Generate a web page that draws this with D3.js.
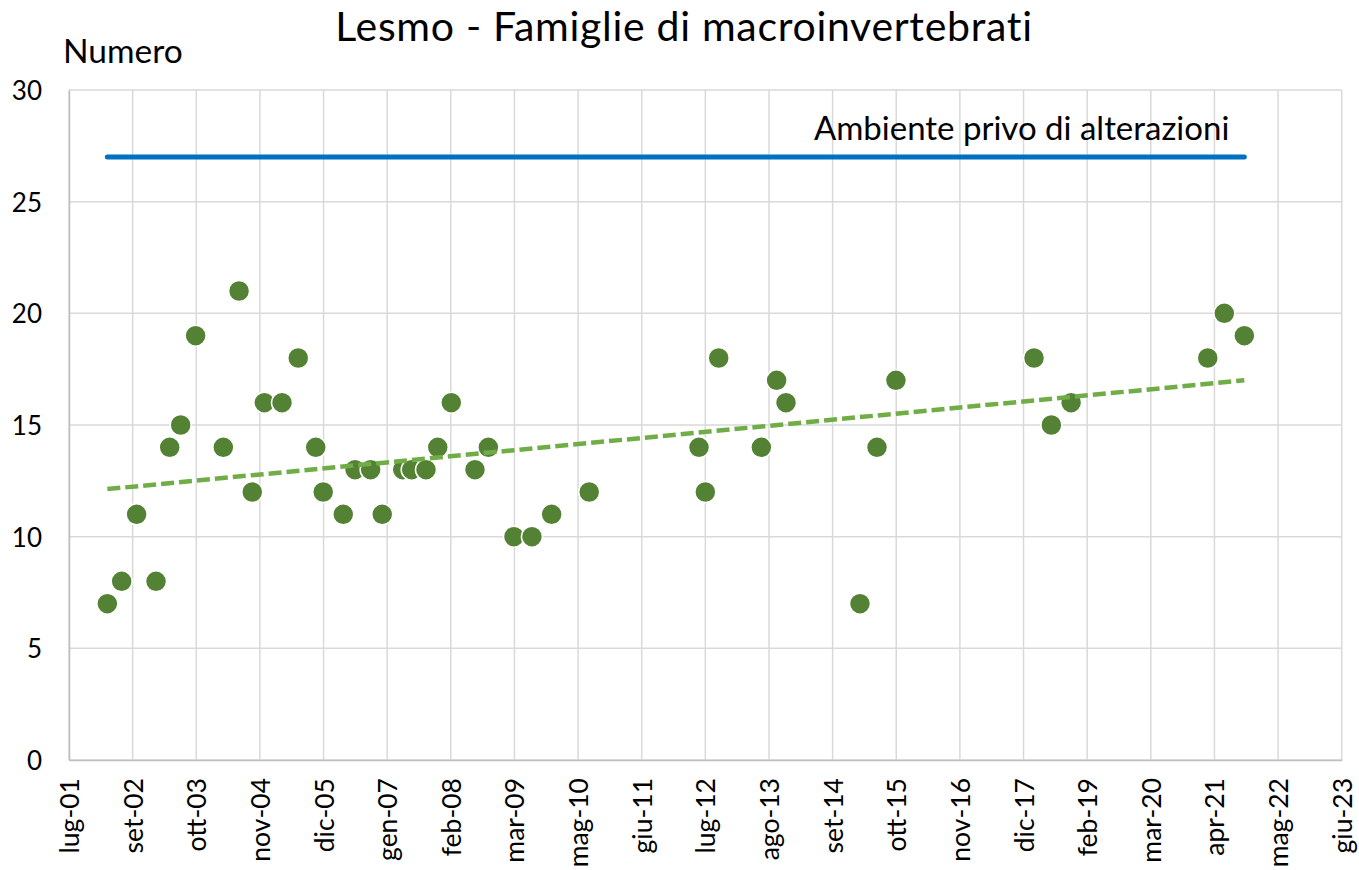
<!DOCTYPE html>
<html>
<head>
<meta charset="utf-8">
<script src="https://cdn.jsdelivr.net/npm/d3@7"></script>
<style>
  html, body { margin: 0; padding: 0; background: #fff; }
  svg text { font-family: Lato, "Open Sans", sans-serif; fill: #000; }
</style>
</head>
<body>
<svg id="chart" width="1359" height="870"></svg>
<script>
// ---------- DATA ----------
const sampleDates = [
  "2002-03-26","2002-06-24","2002-09-26","2003-01-26","2003-04-22","2003-06-30","2003-10-02",
  "2004-03-24","2004-07-01","2004-09-22","2004-12-07","2005-03-28","2005-07-08","2005-10-26",
  "2005-12-12","2006-04-17","2006-06-30","2006-10-06","2006-12-18","2007-04-26","2007-06-21",
  "2007-09-19","2007-12-02","2008-02-25","2008-07-23","2008-10-15","2009-03-25","2009-07-16",
  "2009-11-17","2010-07-11","2012-05-31","2012-07-10","2012-10-02","2013-06-27","2013-10-01",
  "2013-11-29","2015-03-09","2015-06-24","2015-10-21","2018-03-07","2018-06-24","2018-10-26",
  "2021-03-03","2021-06-15","2021-10-19"
];
const familyCounts = [
  7, 8, 11, 8, 14, 15, 19,
  14, 21, 12, 16, 16, 18, 14,
  12, 11, 13, 13, 11, 13, 13,
  13, 14, 16, 13, 14, 10, 10,
  11, 12, 14, 12, 18, 14, 17,
  16, 7, 14, 17, 18, 15, 16,
  18, 20, 19
];
const referenceValue = 27;                 // "Ambiente privo di alterazioni"
const referenceLabel = "Ambiente privo di alterazioni";
const trendEndValues = [12.13, 17.0];      // linear trend at first and last sample
const xTickDates = [
  "2001-07-28","2002-09-01","2003-10-06","2004-11-09","2005-12-14","2007-01-18","2008-02-22",
  "2009-03-28","2010-05-02","2011-06-06","2012-07-10","2013-08-14","2014-09-18","2015-10-23",
  "2016-11-26","2017-12-31","2019-02-04","2020-03-10","2021-04-14","2022-05-19","2023-06-23"
];
const yTicks = [0, 5, 10, 15, 20, 25, 30];
const chartTitle = "Lesmo - Famiglie di macroinvertebrati";
const yAxisTitle = "Numero";

// ---------- SETUP ----------
const itLocale = d3.timeFormatLocale({
  dateTime: "%A %e %B %Y, %X", date: "%d/%m/%Y", time: "%H:%M:%S",
  periods: ["AM", "PM"],
  days: ["domenica","lunedì","martedì","mercoledì","giovedì","venerdì","sabato"],
  shortDays: ["dom","lun","mar","mer","gio","ven","sab"],
  months: ["gennaio","febbraio","marzo","aprile","maggio","giugno","luglio","agosto","settembre","ottobre","novembre","dicembre"],
  shortMonths: ["gen","feb","mar","apr","mag","giu","lug","ago","set","ott","nov","dic"]
});
const fmt = itLocale.utcFormat("%b-%y");
const parse = d3.utcParse("%Y-%m-%d");

const points = sampleDates.map((d, i) => ({ date: parse(d), value: familyCounts[i] }));
const ticks = xTickDates.map(parse);

const svg = d3.select("#chart");
const plotLeft = 69, plotRight = 1341.7, plotTop = 90, plotBottom = 760;

const x = d3.scaleUtc().domain([ticks[0], ticks[ticks.length - 1]]).range([plotLeft, plotRight]);
const y = d3.scaleLinear().domain([0, 30]).range([plotBottom, plotTop]);

// gridlines
svg.append("g").attr("class", "hgrid")
  .selectAll("line").data(yTicks).join("line")
  .attr("x1", plotLeft).attr("x2", plotRight)
  .attr("y1", d => y(d)).attr("y2", d => y(d))
  .attr("stroke", "#d9d9d9").attr("stroke-width", 1.5);

svg.append("g").attr("class", "vgrid")
  .selectAll("line").data(ticks).join("line")
  .attr("x1", d => x(d)).attr("x2", d => x(d))
  .attr("y1", plotTop).attr("y2", plotBottom)
  .attr("stroke", "#d9d9d9").attr("stroke-width", 1.5);

// axes
const yAxis = d3.axisLeft(y).tickValues(yTicks).tickSize(0).tickPadding(27);
const gy = svg.append("g").attr("transform", `translate(${plotLeft},0)`).call(yAxis);
gy.select(".domain").attr("stroke", "#bfbfbf").attr("stroke-width", 1.5);
gy.selectAll("text").style("font-size", "26px").attr("dy", "0.36em");

const xAxis = d3.axisBottom(x).tickValues(ticks).tickFormat(fmt).tickSize(0);
const gx = svg.append("g").attr("transform", `translate(0,${plotBottom})`).call(xAxis);
gx.select(".domain").attr("stroke", "#bfbfbf").attr("stroke-width", 1.5);
gx.selectAll("text")
  .style("font-size", "26.5px")
  .attr("text-anchor", "end")
  .attr("transform", "rotate(-90)")
  .attr("x", -18).attr("y", 0).attr("dy", "0.36em");

// reference line
const first = points[0].date, last = points[points.length - 1].date;
svg.append("line")
  .attr("x1", x(first)).attr("x2", x(last))
  .attr("y1", y(referenceValue)).attr("y2", y(referenceValue))
  .attr("stroke", "#0070C0").attr("stroke-width", 5).attr("stroke-linecap", "round");

svg.append("text")
  .attr("x", x(last) - 15).attr("y", y(referenceValue) - 17)
  .attr("text-anchor", "end")
  .style("font-size", "33px")
  .text(referenceLabel);

// points
svg.append("g").selectAll("circle").data(points).join("circle")
  .attr("cx", d => x(d.date)).attr("cy", d => y(d.value)).attr("r", 10.5)
  .attr("fill", "#548235").attr("stroke", "#ffffff").attr("stroke-width", 1.5);

// trend line
svg.append("line")
  .attr("x1", x(first)).attr("x2", x(last))
  .attr("y1", y(trendEndValues[0])).attr("y2", y(trendEndValues[1]))
  .attr("stroke", "#70AD47").attr("stroke-width", 4.5)
  .attr("stroke-dasharray", "13,5");

// titles
svg.append("text")
  .attr("x", 684).attr("y", 41).attr("text-anchor", "middle")
  .style("font-size", "41px")
  .style("letter-spacing", "0.7px")
  .text(chartTitle);

svg.append("text")
  .attr("x", 63).attr("y", 63)
  .style("font-size", "33.5px")
  .text(yAxisTitle);
</script>
</body>
</html>
